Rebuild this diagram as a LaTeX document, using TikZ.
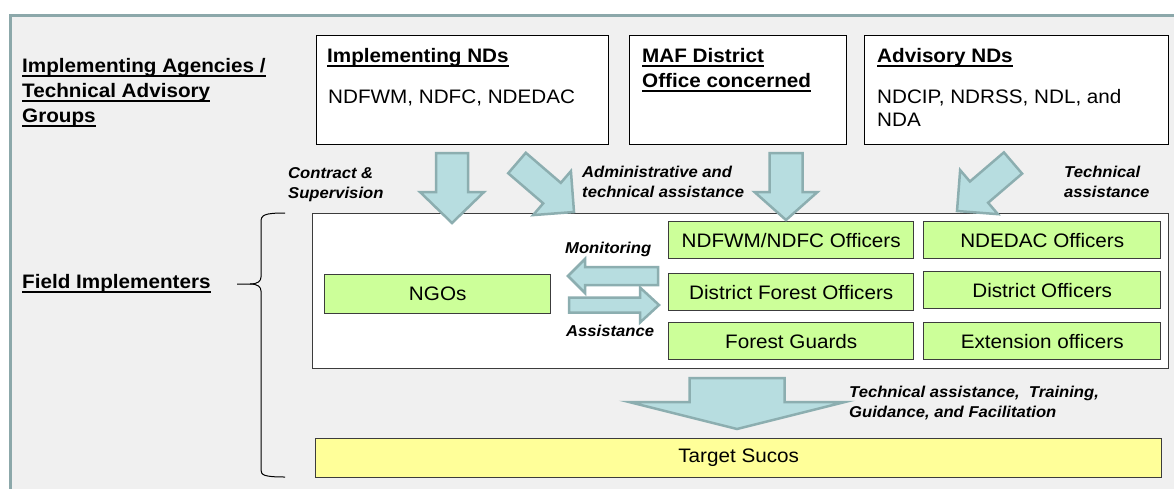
\documentclass[tikz,border=0pt]{standalone}
\usepackage{fontspec}
\setmainfont[FakeStretch=1.06]{Liberation Sans}
\usepackage{tikz}
\usetikzlibrary{calc}
\definecolor{framegray}{RGB}{140,168,170}
\definecolor{bggray}{RGB}{240,240,240}
\definecolor{arrowfill}{RGB}{183,221,224}
\definecolor{arrowline}{RGB}{140,174,176}
\definecolor{officegreen}{RGB}{204,255,153}
\definecolor{sucoyellow}{RGB}{255,255,153}
\definecolor{darkline}{RGB}{60,60,60}
\newcommand{\utitle}[1]{\setbox0\hbox{#1}\rlap{\rule[-5.2pt]{\wd0}{1.8pt}}\box0}
\newcommand{\bigarrow}[5]{%
	\coordinate (hb) at ($(#2)!#5!(#1)$);
	\filldraw[blockarrow] ($(#1)!#3!90:(#2)$) -- ($(hb)!#3!90:(#2)$) -- ($(hb)!#4!90:(#2)$) -- (#2) -- ($(hb)!#4!-90:(#2)$) -- ($(hb)!#3!-90:(#2)$) -- ($(#1)!#3!-90:(#2)$) -- cycle;}
\tikzstyle{marco} = [draw=framegray, fill=bggray, line width=3pt]
\tikzstyle{ndbox} = [draw=black, fill=white, line width=1.2pt, inner sep=0pt, anchor=north west]
\tikzstyle{fieldbox} = [draw=darkline, fill=white, line width=1.4pt, inner sep=0pt, anchor=north west]
\tikzstyle{officer} = [draw=darkline, fill=officegreen, line width=1.4pt, inner sep=0pt, anchor=north west, font=\fontsize{19.5}{24}\selectfont]
\tikzstyle{target} = [draw=darkline, fill=sucoyellow, line width=1.4pt, inner sep=0pt, anchor=north west, font=\fontsize{19.5}{24}\selectfont]
\tikzstyle{heading} = [font=\fontsize{19.5}{25}\selectfont\bfseries, align=left, inner sep=0pt, anchor=base west]
\tikzstyle{bodytext} = [font=\fontsize{19.5}{23.5}\selectfont, align=left, inner sep=0pt, anchor=base west]
\tikzstyle{flowlabel} = [font=\fontsize{15.7}{20}\selectfont\bfseries\itshape, inner sep=0pt, anchor=base west]
\tikzstyle{blockarrow} = [draw=arrowline, fill=arrowfill, line width=2.5pt, line join=miter]
\tikzstyle{bracket} = [draw=black, line width=1pt]

\begin{document}
\begin{tikzpicture}[x=1pt, y=-1pt]
	\useasboundingbox (0,0) rectangle (1174,488);
	\filldraw[marco] (10.5,15.5) rectangle (1190,500);

	\node[heading] (agencies) at (22,122) {\utitle{Implementing Agencies /}\\\utitle{Technical Advisory}\\\utitle{Groups}};
	\node[heading] (fieldlabel) at (22,288) {\utitle{Field Implementers}};

	\node[ndbox, minimum width=292pt, minimum height=109pt] (impl) at (316,35) {};
	\node[ndbox, minimum width=217pt, minimum height=109pt] (maf) at (629,35) {};
	\node[ndbox, minimum width=304pt, minimum height=109pt] (adv) at (864,35) {};
	\node[heading] (impltitle) at ($(impl.north west)+(11,27)$) {\utitle{Implementing NDs}};
	\node[bodytext] (impllist) at ($(impl.north west)+(12,68)$) {NDFWM, NDFC, NDEDAC};
	\node[heading] (maftitle) at ($(maf.north west)+(13,52)$) {\utitle{MAF District}\\\utitle{Office concerned}};
	\node[heading] (advtitle) at ($(adv.north west)+(13,27)$) {\utitle{Advisory NDs}};
	\node[bodytext] (advlist) at ($(adv.north west)+(13,91.5)$) {NDCIP, NDRSS, NDL, and\\NDA};

	\node[fieldbox, minimum width=856pt, minimum height=155pt] (field) at (312,213) {};
	\node[officer, minimum width=226pt, minimum height=39pt] (ngo) at (324,274) {NGOs};
	\node[officer, minimum width=245pt, minimum height=37pt] (fwm) at (668,221) {NDFWM/NDFC Officers};
	\node[officer, minimum width=237pt, minimum height=37pt] (edac) at (923,221) {NDEDAC Officers};
	\node[officer, minimum width=245pt, minimum height=37pt] (dfo) at (668,273) {District Forest Officers};
	\node[officer, minimum width=237pt, minimum height=37pt] (dist) at (923,271) {District Officers};
	\node[officer, minimum width=245pt, minimum height=37pt] (guard) at (668,322) {Forest Guards};
	\node[officer, minimum width=237pt, minimum height=37pt] (ext) at (923,322) {Extension officers};
	\node[target, minimum width=846pt, minimum height=39pt] (sucos) at (315,438) {Target Sucos};

	\coordinate (c1) at (452,153);
	\coordinate (t1) at (452,223);
	\coordinate (c2) at (517,163);
	\coordinate (t2) at (574,212);
	\coordinate (c3) at (786,153);
	\coordinate (t3) at (786,220);
	\coordinate (c4) at (1013,163);
	\coordinate (t4) at (957,211);
	\coordinate (c5) at (658,276);
	\coordinate (t5) at (568,276);
	\coordinate (c6) at (569,305);
	\coordinate (t6) at (659,305);
	\coordinate (c7) at (737,378);
	\coordinate (t7) at (737,429);
	\bigarrow{c1}{t1}{16pt}{32pt}{31pt}
	\bigarrow{c2}{t2}{13.5pt}{29pt}{29pt}
	\bigarrow{c3}{t3}{16.5pt}{31.5pt}{28pt}
	\bigarrow{c4}{t4}{14pt}{29pt}{29pt}
	\bigarrow{c5}{t5}{9pt}{17pt}{17pt}
	\bigarrow{c6}{t6}{7.5pt}{17.5pt}{19pt}
	\bigarrow{c7}{t7}{47.5pt}{108pt}{27pt}

	\node[flowlabel, align=left] (contract) at (288,198) {Contract \&\\Supervision};
	\node[flowlabel, align=left] (admin) at (582,197) {Administrative and\\technical assistance};
	\node[flowlabel, align=left] (techass) at (1064,197) {Technical\\assistance};
	\node[flowlabel] (monitor) at (565,253) {Monitoring};
	\node[flowlabel] (assist) at (566,336) {Assistance};
	\node[flowlabel, align=left] (training) at (849,417) {Technical assistance,~ Training,\\Guidance, and Facilitation};

	\draw[bracket] (285,213) .. controls (264,213) and (261,215) .. (261,222) -- (261,277) .. controls (261,281) and (258,284) .. (250,284) -- (237,284);
	\draw[bracket] (250,284) .. controls (258,284) and (261,287) .. (261,291) -- (261,470) .. controls (261,475) and (264,477) .. (285,477);
\end{tikzpicture}
\end{document}
